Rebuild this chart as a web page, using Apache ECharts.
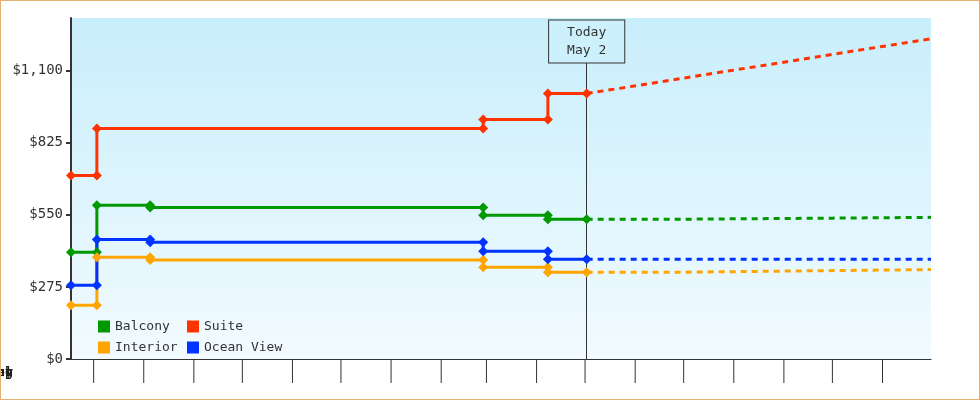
<!DOCTYPE html>
<html><head><meta charset="utf-8">
<script src="https://cdn.jsdelivr.net/npm/echarts@6/dist/echarts.min.js"></script>
<style>html,body{margin:0;padding:0}#c{width:978px;height:398px;border:1px solid #e8b070}</style>
</head><body><div id="c"></div>
<script>
const yTicks = [0, 275, 550, 825, 1100];
const months = ['2024-07-01','2024-08-01','2024-09-01','2024-10-01','2024-11-01','2024-12-01','2025-01-01','2025-02-01','2025-03-01','2025-04-01','2025-05-01','2025-06-01','2025-07-01','2025-08-01','2025-09-01','2025-10-01','2025-11-01','2025-12-01'];
const monthLabels = ['Jul','Aug','Sep','Oct','Nov','Dec','Jan','Feb','Mar','Apr','May','Jun','Jul','Aug','Sep','Oct','Nov'];
const today = '2025-05-02';
const balcony = [['2024-06-17',407],['2024-07-03',407],['2024-07-03',586],['2024-08-05',586],['2024-08-05',578],['2025-02-27',578],['2025-02-27',548],['2025-04-08',548],['2025-04-08',533],['2025-05-02',533]];
const suite = [['2024-06-17',700],['2024-07-03',700],['2024-07-03',879],['2025-02-27',879],['2025-02-27',913],['2025-04-08',913],['2025-04-08',1012],['2025-05-02',1012]];
const interior = [['2024-06-17',205],['2024-07-03',205],['2024-07-03',388],['2024-08-05',388],['2024-08-05',377],['2025-02-27',377],['2025-02-27',350],['2025-04-08',350],['2025-04-08',331],['2025-05-02',331]];
const ocean = [['2024-06-17',281],['2024-07-03',281],['2024-07-03',456],['2024-08-05',456],['2024-08-05',445],['2025-02-27',445],['2025-02-27',411],['2025-04-08',411],['2025-04-08',380],['2025-05-02',380]];
const suiteF = [['2025-05-02',1012],['2025-08-15',1115],['2025-12-01',1221]];
const balconyF = [['2025-05-02',533],['2025-07-01',533],['2025-07-01',537],['2025-10-01',537],['2025-10-01',540],['2025-12-01',540]];
const interiorF = [['2025-05-02',331],['2025-07-01',331],['2025-07-01',337],['2025-10-01',337],['2025-10-01',341],['2025-12-01',341]];
const oceanF = [['2025-05-02',380],['2025-12-01',380]];

const C = {Balcony:'#009900', Suite:'#ff3300', Interior:'#ffa500', 'Ocean View':'#0033ff'};
const font = 'DejaVu Sans Mono';
function hist(name, data){
  return {name, type:'line', data, color:C[name], symbol:'diamond', symbolSize:10,
    lineStyle:{width:3}, itemStyle:{color:C[name]}, z:5};
}
function fc(name, data){
  return {name:name+' f', type:'line', data, color:C[name], symbol:'none',
    lineStyle:{width:3, type:[6,5]}, z:4};
}
const monthData = months.slice(0,-1).map((m,i)=>[m, months[i+1]]);
const chart = echarts.init(document.getElementById('c'));
chart.setOption({
  animation:false,
  textStyle:{fontFamily:font},
  grid:{left:70, right:48, top:17, bottom:40,
    show:true, borderWidth:0,
    backgroundColor:new echarts.graphic.LinearGradient(0,0,0,1,[{offset:0,color:'#c8eefb'},{offset:1,color:'#f2fbff'}])},
  legend:[
    {data:['Balcony','Interior'], orient:'vertical', left:92, top:314, icon:'rect', itemWidth:12, itemHeight:12, itemGap:8, textStyle:{fontFamily:font, fontSize:13, color:'#333'}},
    {data:['Suite','Ocean View'], orient:'vertical', left:181, top:314, icon:'rect', itemWidth:12, itemHeight:12, itemGap:8, textStyle:{fontFamily:font, fontSize:13, color:'#333'}}
  ],
  xAxis:{type:'time', min:'2024-06-17', max:'2025-12-01',
    axisLine:{lineStyle:{color:'#333'}}, axisTick:{show:false}, axisLabel:{show:false}, splitLine:{show:false}},
  yAxis:{type:'value', min:0, max:1300,
    axisLine:{show:true, lineStyle:{color:'#333', width:2}},
    axisTick:{show:true, length:5, customValues:yTicks, lineStyle:{color:'#333', width:2}},
    axisLabel:{customValues:yTicks, fontFamily:font, fontSize:14, color:'#333', margin:8,
      formatter:v=>'$'+v.toLocaleString('en-US')},
    splitLine:{show:false}},
  series:[
    {type:'custom', silent:true, clip:false, data:monthData, z:1,
      renderItem:(params, api)=>{
        const a = api.coord([api.value(0),0]);
        const b = api.coord([api.value(1),0]);
        const children = [
          {type:'line', shape:{x1:a[0],y1:a[1],x2:a[0],y2:a[1]+24}, style:{stroke:'#333', lineWidth:1}},
          {type:'text', style:{x:(a[0]+b[0])/2, y:a[1]+14, text:monthLabels[params.dataIndex], fontSize:13, fontFamily:font, fill:'#222', align:'center', verticalAlign:'middle'}}
        ];
        if(params.dataIndex===monthData.length-1){
          children.push({type:'line', shape:{x1:b[0],y1:b[1],x2:b[0],y2:b[1]+24}, style:{stroke:'#333', lineWidth:1}});
          const s = api.coord([new Date('2024-06-17').getTime(),0]);
          children.push({type:'line', shape:{x1:s[0],y1:b[1]+24,x2:b[0],y2:b[1]+24}, style:{stroke:'#333', lineWidth:1}});
        }
        return {type:'group', children};
      }},
    hist('Balcony', balcony), hist('Suite', suite), hist('Interior', interior), hist('Ocean View', ocean),
    fc('Balcony', balconyF), fc('Suite', suiteF), fc('Interior', interiorF), fc('Ocean View', oceanF),
    {type:'line', data:[], markLine:{silent:true, symbol:'none', z:3,
      lineStyle:{color:'#333', width:1, type:'solid'},
      label:{show:true, position:'end', distance:0, formatter:'Today\nMay 2', fontFamily:font, fontSize:13, color:'#333',
        backgroundColor:'#ccf0fc', borderColor:'#333', borderWidth:1, padding:[3,18,3,18], lineHeight:18},
      data:[[{coord:[today,0]},{coord:[today,1130]}]]}}
  ]
});
</script></body></html>
